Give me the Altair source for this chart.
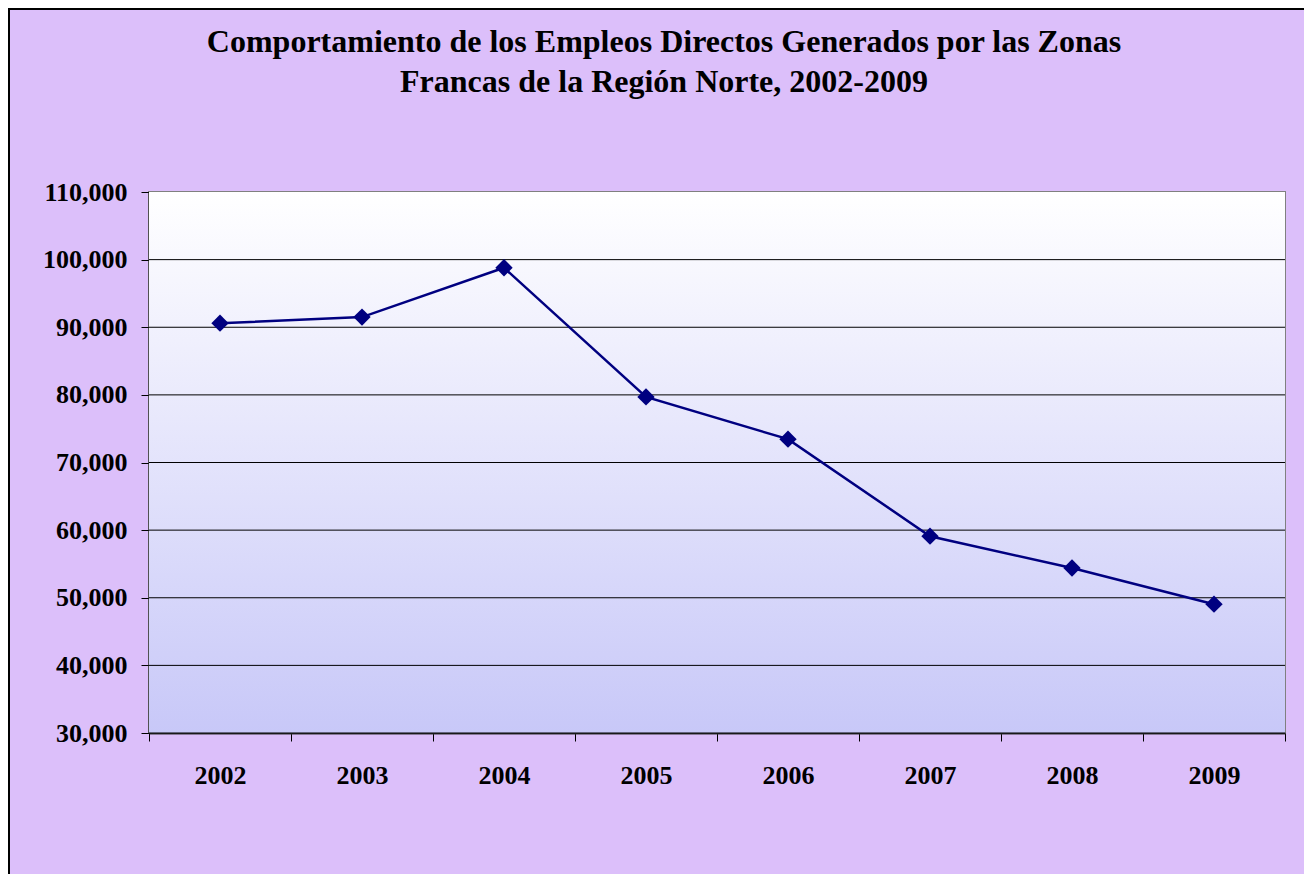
import altair as alt
import pandas as pd

years = ["2002", "2003", "2004", "2005", "2006", "2007", "2008", "2009"]
empleos = [90600, 91500, 98800, 79700, 73450, 59100, 54400, 49050]
y_ticks = [30000, 40000, 50000, 60000, 70000, 80000, 90000, 100000, 110000]
title_lines = ["Comportamiento de los Empleos Directos Generados por las Zonas",
               "Francas de la Región Norte, 2002-2009"]

W, H = 1136, 541
FONT = "Liberation Serif"
BG = "#DCBFFA"
NAVY = "#000080"

df = pd.DataFrame({"year": years, "empleos": empleos})
grid_df = pd.DataFrame({"v": y_ticks})
one = alt.Data(values=[{"k": 1}])

xscale = alt.Scale(type="band", domain=years, paddingInner=0, paddingOuter=0)
yscale = alt.Scale(domain=[30000, 110000], nice=False, zero=False)

border = alt.Chart(one).mark_rect(
    fillOpacity=0, stroke="black", strokeWidth=2
).encode(
    x=alt.value(-140), x2=alt.value(W + 300),
    y=alt.value(-183), y2=alt.value(H + 300),
)

plot_bg = alt.Chart(one).mark_rect(
    color=alt.Gradient(
        gradient="linear",
        stops=[alt.GradientStop(color="#FFFFFF", offset=0),
               alt.GradientStop(color="#C8C8F8", offset=1)],
        x1=0, x2=0, y1=0, y2=1,
    )
).encode(
    x=alt.value(0), x2=alt.value(W), y=alt.value(0), y2=alt.value(H)
)

grid = alt.Chart(grid_df).mark_rule(color="black", strokeWidth=1).encode(
    x=alt.value(0), x2=alt.value(W),
    y=alt.Y("v:Q", scale=yscale),
).transform_filter("datum.v < 110000")

x_enc = alt.X(
    "year:N", scale=xscale, sort=years,
    axis=alt.Axis(
        title=None, labelAngle=0, tickBand="extent", tickSize=8,
        tickColor="black", tickWidth=1, domainColor="#333333", domainWidth=2,
        labelFont=FONT, labelFontSize=26, labelFontWeight="bold",
        labelColor="black", labelPadding=21, grid=False,
    ),
)
y_enc = alt.Y(
    "empleos:Q", scale=yscale,
    axis=alt.Axis(
        title=None, values=y_ticks, format=",d", grid=False, tickSize=8,
        tickColor="black", tickWidth=1, domainColor="#222222", domainWidth=2,
        labelFont=FONT, labelFontSize=26, labelFontWeight="bold",
        labelColor="black", labelPadding=14,
    ),
)

line = alt.Chart(df).mark_line(color=NAVY, strokeWidth=2.5).encode(x=x_enc, y=y_enc)
pts = alt.Chart(df).mark_point(
    shape="diamond", filled=True, color=NAVY, size=300, opacity=1
).encode(x=x_enc, y=y_enc)

chart = alt.layer(border, plot_bg, grid, line, pts).properties(
    width=W, height=H,
    autosize=alt.AutoSizeParams(type="none"),
    padding={"left": 141, "top": 184, "right": 19, "bottom": 141},
    title=alt.TitleParams(
        text=title_lines, font=FONT, fontSize=32, fontWeight="bold",
        color="black", anchor="middle", offset=-116, lineHeight=40, dx=-53,
        baseline="alphabetic",
    ),
).configure(
    background=BG
).configure_view(
    stroke="#808080", strokeWidth=2
)

chart.save("out.html", embed_options={"renderer": "svg", "actions": False})
